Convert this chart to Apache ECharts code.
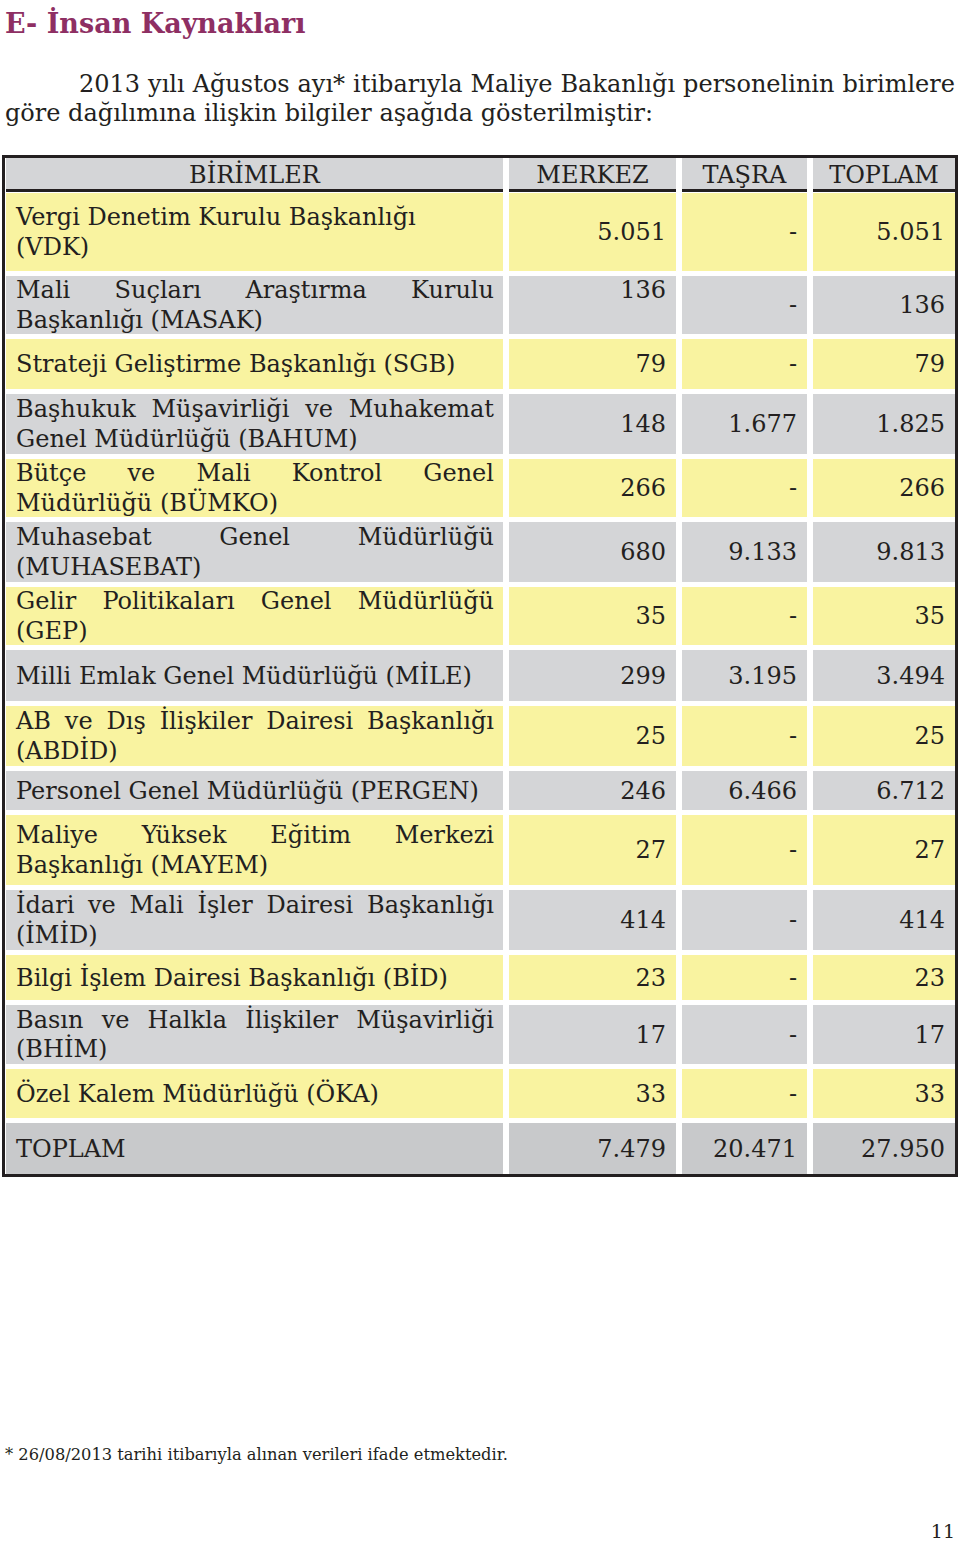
<!DOCTYPE html>
<html>
<head>
<meta charset="utf-8">
<title>İnsan Kaynakları</title>
<script src="https://cdn.jsdelivr.net/npm/echarts@6.0.0/dist/echarts.min.js"></script>
<style>
  html, body { margin: 0; background: #fff; }
  #main { width: 960px; height: 1544px; }
</style>
</head>
<body>
<div id="main"></div>
<script>
// ---- data ----
const pageTitle = 'E- İnsan Kaynakları';
const introLines = [
  '2013 yılı Ağustos ayı* itibarıyla Maliye Bakanlığı personelinin birimlere',
  'göre dağılımına ilişkin bilgiler aşağıda gösterilmiştir:'
];
const footnote = '* 26/08/2013 tarihi itibarıyla alınan verileri ifade etmektedir.';
const pageNo = '11';

const headers = ['BİRİMLER', 'MERKEZ', 'TAŞRA', 'TOPLAM'];
const units = [
  'Vergi Denetim Kurulu Başkanlığı\n(VDK)',
  'Mali Suçları Araştırma Kurulu\nBaşkanlığı (MASAK)',
  'Strateji Geliştirme Başkanlığı (SGB)',
  'Başhukuk Müşavirliği ve Muhakemat\nGenel Müdürlüğü (BAHUM)',
  'Bütçe ve Mali Kontrol Genel\nMüdürlüğü (BÜMKO)',
  'Muhasebat Genel Müdürlüğü\n(MUHASEBAT)',
  'Gelir Politikaları Genel Müdürlüğü\n(GEP)',
  'Milli Emlak Genel Müdürlüğü (MİLE)',
  'AB ve Dış İlişkiler Dairesi Başkanlığı\n(ABDİD)',
  'Personel Genel Müdürlüğü (PERGEN)',
  'Maliye Yüksek Eğitim Merkezi\nBaşkanlığı (MAYEM)',
  'İdari ve Mali İşler Dairesi Başkanlığı\n(İMİD)',
  'Bilgi İşlem Dairesi Başkanlığı (BİD)',
  'Basın ve Halkla İlişkiler Müşavirliği\n(BHİM)',
  'Özel Kalem Müdürlüğü (ÖKA)'
];
const merkez = [5051, 136, 79, 148, 266, 680, 35, 299, 25, 246, 27, 414, 23, 17, 33];
const tasra  = [0, 0, 0, 1677, 0, 9133, 0, 3195, 0, 6466, 0, 0, 0, 0, 0];
const toplam = [5051, 136, 79, 1825, 266, 9813, 35, 3494, 25, 6712, 27, 414, 23, 17, 33];
const totalLabel = 'TOPLAM';
const totals = [7479, 20471, 27950];

// ---- layout ----
const FONT = 'DejaVu Serif';
const BODY = 24;
const LINE_H = 29.5;
const INK = '#231f20';
const YELLOW = '#f9f3a0';
const GREY = '#d4d5d7';
const GREY_TOTAL = '#c8c9cb';
const colLeft  = [6, 509, 682, 813];
const colRight = [503, 676, 807, 955];
const headerTop = 158, headerBottom = 189, headerRule = 3;
const rowTop    = [193, 276, 339, 394, 459, 522, 587, 650, 706, 771, 815, 890, 955, 1005, 1069];
const rowBottom = [271, 334, 389, 454, 517, 582, 645, 701, 766, 810, 885, 950, 1000, 1064, 1118];
const totalTop = 1123, totalBottom = 1174;
const noJustifyRows = [0];
const firstLineCells = ['1-1'];   // MASAK merkez sits on the first text line

const ctx = document.createElement('canvas').getContext('2d');
function measure(text, font) { ctx.font = font; return ctx.measureText(text).width; }

function fmt(n) {
  if (!n) return '-';
  return String(n).replace(/\B(?=(\d{3})+(?!\d))/g, '.');
}

// words of a line spread between x0 and x1
function justify(line, x0, x1, font) {
  const words = line.split(' ');
  const widths = words.map(w => measure(w, font));
  const sum = widths.reduce((a, b) => a + b, 0);
  const space = measure(' ', font);
  let gap = words.length > 1 ? (x1 - x0 - sum) / (words.length - 1) : 0;
  if (gap < space * 0.6) gap = space;
  const out = [];
  let x = x0;
  words.forEach((w, i) => { out.push({ text: w, x: x }); x += widths[i] + gap; });
  return out;
}

// one data item per cell: [row, col]; row -1 = header, row 15 = total
const cells = [];
for (let r = -1; r <= units.length; r++) {
  for (let c = 0; c < 4; c++) cells.push([r, c]);
}

function textEl(text, x, y, align, font) {
  return {
    type: 'text',
    style: {
      text: text, x: x, y: y, font: font, fill: INK,
      textAlign: align, textVerticalAlign: 'middle'
    }
  };
}

function renderItem(params, api) {
  const r = api.value(0), c = api.value(1);
  const font = BODY + 'px "' + FONT + '"';
  let top, bottom, fill;
  if (r < 0) { top = headerTop; bottom = headerBottom; fill = GREY; }
  else if (r >= units.length) { top = totalTop; bottom = totalBottom; fill = GREY_TOTAL; }
  else { top = rowTop[r]; bottom = rowBottom[r]; fill = r % 2 === 0 ? YELLOW : GREY; }

  const p0 = api.coord([colLeft[c], top]);
  const p1 = api.coord([colRight[c], bottom]);
  const children = [{
    type: 'rect',
    shape: { x: p0[0], y: p0[1], width: p1[0] - p0[0], height: p1[1] - p0[1] },
    style: { fill: fill }
  }];
  const cy = (p0[1] + p1[1]) / 2;

  if (r < 0) {
    children.push({
      type: 'rect',
      shape: { x: p0[0], y: p1[1], width: p1[0] - p0[0], height: headerRule },
      style: { fill: INK }
    });
    children.push(textEl(headers[c], (p0[0] + p1[0]) / 2, cy + 1, 'center', font));
    return { type: 'group', children: children };
  }

  const left = p0[0] + 10, right = p1[0] - 10;
  if (c === 0) {
    const label = r >= units.length ? totalLabel : units[r];
    const lines = label.split('\n');
    lines.forEach((line, i) => {
      const y = cy + (i - (lines.length - 1) / 2) * LINE_H;
      const last = i === lines.length - 1;
      if (!last && noJustifyRows.indexOf(r) < 0) {
        justify(line, left, p1[0] - 9, font).forEach(w => children.push(textEl(w.text, w.x, y, 'left', font)));
      } else {
        children.push(textEl(line, left, y, 'left', font));
      }
    });
  } else {
    let v;
    if (r >= units.length) v = totals[c - 1];
    else v = [merkez, tasra, toplam][c - 1][r];
    let y = cy;
    if (firstLineCells.indexOf(r + '-' + c) >= 0) {
      const n = units[r].split('\n').length;
      y = cy - (n - 1) / 2 * LINE_H;
    }
    children.push(textEl(fmt(v), right, y, 'right', font));
  }
  return { type: 'group', children: children };
}

// page texts
const graphics = [];
const titleFont = 'bold 27px "' + FONT + '"';
graphics.push({ type: 'text', style: { text: pageTitle, x: 5, y: 23, font: titleFont, fill: '#8e2f63', textAlign: 'left', textVerticalAlign: 'middle' } });
const introFont = '24px "' + FONT + '"';
justify(introLines[0], 79, 955, introFont).forEach(w => {
  graphics.push({ type: 'text', style: { text: w.text, x: w.x, y: 84, font: introFont, fill: INK, textAlign: 'left', textVerticalAlign: 'middle' } });
});
graphics.push({ type: 'text', style: { text: introLines[1], x: 5, y: 113, font: introFont, fill: INK, textAlign: 'left', textVerticalAlign: 'middle' } });
graphics.push({ type: 'rect', z: 100, shape: { x: 3.5, y: 156.5, width: 953, height: 1019 }, style: { fill: 'none', stroke: INK, lineWidth: 3 } });
graphics.push({ type: 'text', style: { text: footnote, x: 5, y: 1454, font: '16.3px "' + FONT + '"', fill: INK, textAlign: 'left', textVerticalAlign: 'middle' } });
graphics.push({ type: 'text', style: { text: pageNo, x: 955, y: 1531, font: '19px "' + FONT + '"', fill: INK, textAlign: 'right', textVerticalAlign: 'middle' } });

const chart = echarts.init(document.getElementById('main'), null, { renderer: 'svg' });
chart.setOption({
  animation: false,
  backgroundColor: '#fff',
  grid: { left: 0, right: 0, top: 0, bottom: 0 },
  xAxis: { type: 'value', min: 0, max: 960, show: false },
  yAxis: { type: 'value', min: 0, max: 1544, inverse: true, show: false },
  graphic: graphics,
  series: [{
    type: 'custom',
    renderItem: renderItem,
    data: cells,
    encode: { x: -1, y: -1 },
    clip: false,
    silent: true
  }]
});
</script>
</body>
</html>
